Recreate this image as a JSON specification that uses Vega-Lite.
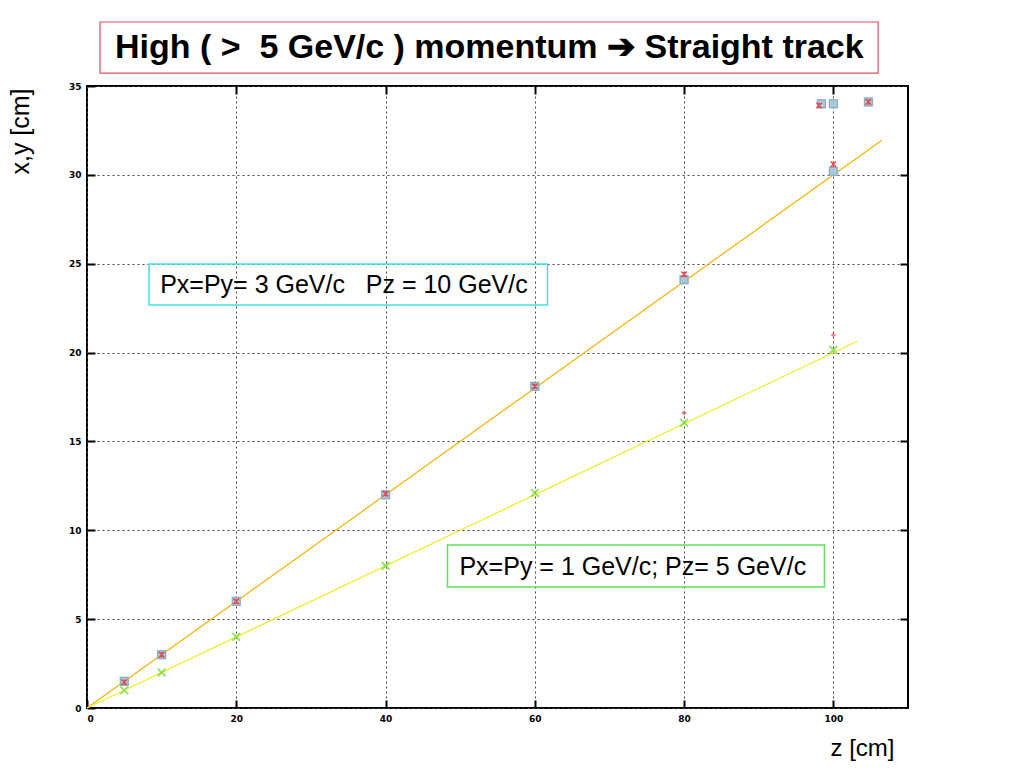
{
  "$schema": "https://vega.github.io/schema/vega-lite/v6.json",
  "width": 821,
  "height": 622,
  "autosize": {"type": "none"},
  "padding": {"left": 87, "top": 86, "right": 116, "bottom": 60},
  "background": "white",
  "config": {
    "view": {"stroke": "black", "strokeWidth": 2},
    "axis": {
      "labelFont": "DejaVu Sans",
      "labelFontWeight": "bold",
      "labelFontSize": 9,
      "labelColor": "black",
      "domain": false,
      "ticks": true,
      "tickColor": "black",
      "tickWidth": 2,
      "tickSize": -8,
      "tickOpacity": 1,
      "gridColor": "#444444",
      "gridDash": [2, 3],
      "gridWidth": 1,
      "gridOpacity": 1,
      "titleFont": "Liberation Sans",
      "titleFontWeight": "normal",
      "titleFontSize": 24,
      "titleColor": "black"
    }
  },
  "datasets": {
    "lines": [
      {"trk": "A", "z": 0, "y": 0}, {"trk": "A", "z": 106.5, "y": 31.95},
      {"trk": "B", "z": 0, "y": 0}, {"trk": "B", "z": 103.2, "y": 20.64}
    ],
    "hitsA": [
      {"z": 5, "y": 1.5}, {"z": 10, "y": 3}, {"z": 20, "y": 6}, {"z": 40, "y": 12},
      {"z": 60, "y": 18.1}, {"z": 80, "y": 24.1}, {"z": 100, "y": 30.2},
      {"z": 98.4, "y": 34}, {"z": 100, "y": 34}, {"z": 104.7, "y": 34.1}
    ],
    "redA": [
      {"z": 5, "y": 1.45}, {"z": 10, "y": 3}, {"z": 20, "y": 6}, {"z": 40, "y": 12.05},
      {"z": 60, "y": 18.1}, {"z": 80, "y": 24.4}, {"z": 100, "y": 30.6},
      {"z": 98.1, "y": 33.9}, {"z": 104.7, "y": 34.1}
    ],
    "greenB": [
      {"z": 5, "y": 1}, {"z": 10, "y": 2}, {"z": 20, "y": 4}, {"z": 40, "y": 8},
      {"z": 60, "y": 12.1}, {"z": 80, "y": 16.05}, {"z": 100, "y": 20.15}
    ],
    "redB": [{"z": 80, "y": 16.6}, {"z": 100, "y": 21.0}],
    "titleBox": [{"x1": 1.74, "x2": 106, "y1": 35.73, "y2": 38.6, "label": "High ( > \u00a05 GeV/c ) momentum ➔ Straight track", "tx": 53.9, "ty": 37.15}],
    "boxA": [{"x1": 8.3, "x2": 61.7, "y1": 22.68, "y2": 24.99, "label": "Px=Py= 3 GeV/c \u00a0 Pz = 10 GeV/c", "tx": 9.8, "ty": 23.8}],
    "boxB": [{"x1": 48.3, "x2": 98.8, "y1": 6.81, "y2": 9.17, "label": "Px=Py = 1 GeV/c; Pz= 5 GeV/c", "tx": 49.9, "ty": 7.95}]
  },
  "layer": [
    {
      "data": {"name": "lines"},
      "mark": {"type": "line", "strokeWidth": 1.2},
      "encoding": {
        "x": {"field": "z", "type": "quantitative", "scale": {"domain": [0, 110], "nice": false, "zero": false},
              "axis": {"orient": "bottom", "values": [0, 20, 40, 60, 80, 100], "labelPadding": 14, "title": "z [cm]", "titleX": 775, "titleY": 40, "titleAlign": "center", "titleBaseline": "middle"}},
        "y": {"field": "y", "type": "quantitative", "scale": {"domain": [0, 35], "nice": false, "zero": false},
              "axis": {"orient": "left", "values": [0, 5, 10, 15, 20, 25, 30, 35], "labelPadding": 14, "title": "x,y [cm]", "titleX": -67, "titleY": 45, "titleAngle": 270, "titleAlign": "center", "titleBaseline": "middle", "titleFontSize": 25}},
        "color": {"field": "trk", "type": "nominal", "scale": {"domain": ["A", "B"], "range": ["#f2b400", "#f0ec2a"]}, "legend": null},
        "detail": {"field": "trk"}
      }
    },
    {
      "data": {"name": "lines"},
      "mark": {"type": "point", "opacity": 0},
      "encoding": {
        "x": {"field": "z", "type": "quantitative", "axis": {"orient": "top", "values": [20, 40, 60, 80, 100], "labels": false, "grid": false, "title": null}},
        "y": {"field": "y", "type": "quantitative", "axis": {"orient": "right", "values": [5, 10, 15, 20, 25, 30], "labels": false, "grid": false, "title": null}}
      }
    },
    {
      "data": {"name": "hitsA"},
      "mark": {"type": "square", "filled": true, "size": 90, "color": "#9cc6dc", "opacity": 0.9},
      "encoding": {"x": {"field": "z", "type": "quantitative", "axis": null}, "y": {"field": "y", "type": "quantitative", "axis": null}}
    },
    {
      "data": {"name": "hitsA"},
      "mark": {"type": "square", "filled": false, "size": 60, "color": "#8a9aa0", "strokeWidth": 1, "opacity": 0.7},
      "encoding": {"x": {"field": "z", "type": "quantitative", "axis": null}, "y": {"field": "y", "type": "quantitative", "axis": null}}
    },
    {
      "data": {"name": "redA"},
      "mark": {"type": "point", "shape": "M-1,-1L1,1M-1,1L1,-1M0,-1L0,1", "filled": false, "size": 30, "color": "#e8404a", "strokeWidth": 1.5, "opacity": 0.9},
      "encoding": {"x": {"field": "z", "type": "quantitative", "axis": null}, "y": {"field": "y", "type": "quantitative", "axis": null}}
    },
    {
      "data": {"name": "greenB"},
      "mark": {"type": "point", "shape": "M-1,-1L1,1M-1,1L1,-1", "filled": false, "size": 60, "color": "#6cd82a", "strokeWidth": 2},
      "encoding": {"x": {"field": "z", "type": "quantitative", "axis": null}, "y": {"field": "y", "type": "quantitative", "axis": null}}
    },
    {
      "data": {"name": "redB"},
      "mark": {"type": "point", "shape": "cross", "filled": true, "size": 20, "color": "#e86070", "opacity": 0.8},
      "encoding": {"x": {"field": "z", "type": "quantitative", "axis": null}, "y": {"field": "y", "type": "quantitative", "axis": null}}
    },
    {
      "data": {"name": "titleBox"},
      "mark": {"type": "rect", "fill": "white", "stroke": "#e0505a", "strokeWidth": 1.2, "clip": false},
      "encoding": {"x": {"field": "x1", "type": "quantitative", "axis": null}, "x2": {"field": "x2"}, "y": {"field": "y1", "type": "quantitative", "axis": null}, "y2": {"field": "y2"}}
    },
    {
      "data": {"name": "titleBox"},
      "mark": {"type": "text", "font": "Liberation Sans", "fontSize": 34, "fontWeight": "bold", "color": "black", "align": "center", "baseline": "middle", "clip": false},
      "encoding": {"x": {"field": "tx", "type": "quantitative", "axis": null}, "y": {"field": "ty", "type": "quantitative", "axis": null}, "text": {"field": "label"}}
    },
    {
      "data": {"name": "boxA"},
      "mark": {"type": "rect", "fill": null, "stroke": "#40e0e8", "strokeWidth": 1.5},
      "encoding": {"x": {"field": "x1", "type": "quantitative", "axis": null}, "x2": {"field": "x2"}, "y": {"field": "y1", "type": "quantitative", "axis": null}, "y2": {"field": "y2"}}
    },
    {
      "data": {"name": "boxA"},
      "mark": {"type": "text", "font": "Liberation Sans", "fontSize": 25, "color": "black", "align": "left", "baseline": "middle"},
      "encoding": {"x": {"field": "tx", "type": "quantitative", "axis": null}, "y": {"field": "ty", "type": "quantitative", "axis": null}, "text": {"field": "label"}}
    },
    {
      "data": {"name": "boxB"},
      "mark": {"type": "rect", "fill": null, "stroke": "#60e060", "strokeWidth": 1.5},
      "encoding": {"x": {"field": "x1", "type": "quantitative", "axis": null}, "x2": {"field": "x2"}, "y": {"field": "y1", "type": "quantitative", "axis": null}, "y2": {"field": "y2"}}
    },
    {
      "data": {"name": "boxB"},
      "mark": {"type": "text", "font": "Liberation Sans", "fontSize": 25, "color": "black", "align": "left", "baseline": "middle"},
      "encoding": {"x": {"field": "tx", "type": "quantitative", "axis": null}, "y": {"field": "ty", "type": "quantitative", "axis": null}, "text": {"field": "label"}}
    }
  ]
}
